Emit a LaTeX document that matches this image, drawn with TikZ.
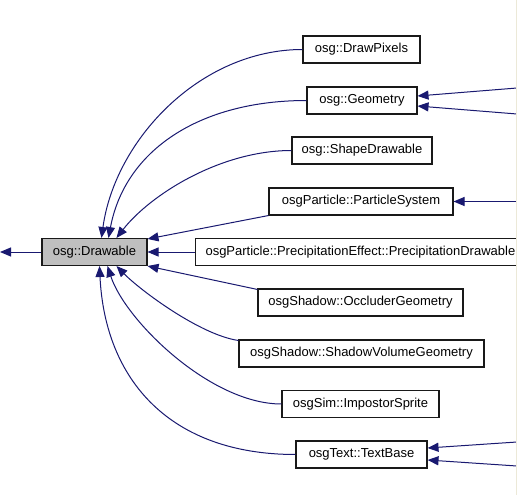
\documentclass[tikz,border=0pt]{standalone}
\usepackage{fontspec}
\setmainfont{Liberation Sans}
\usetikzlibrary{arrows.meta}

\definecolor{edgeblue}{RGB}{25,25,112}
\definecolor{basegray}{RGB}{191,191,191}
\definecolor{paneline}{RGB}{236,233,216}

\tikzset{
  cls/.style={draw=black!90, fill=white, line width=1.05pt, minimum height=27pt,
    inner sep=0pt, font=\fontsize{13}{15}\selectfont},
  edge/.style={draw=edgeblue, line width=1pt,
    -{Triangle[length=11pt,width=9pt]}, edgeblue},
}

\begin{document}
\begin{tikzpicture}[x=1pt, y=-1pt]
        \useasboundingbox (0,0) rectangle (517,495);
        \clip (0,0) rectangle (517,495);

        % base class
        \node[cls, fill=basegray, minimum width=105pt] (drawable) at (94.5,252) {osg::Drawable};

        % derived classes
        \node[cls, minimum width=117pt] (drawpixels) at (361.5,49.5) {osg::DrawPixels};
        \node[cls, minimum width=110pt] (geometry) at (362,100.5) {osg::Geometry};
        \node[cls, minimum width=140pt] (shapedrawable) at (362,150.5) {osg::ShapeDrawable};
        \node[cls, minimum width=184pt] (particlesystem) at (361,201.5) {osgParticle::ParticleSystem};
        \node[cls, anchor=west, inner xsep=10pt] (precipdrawable) at (195,252) {osgParticle::PrecipitationEffect::PrecipitationDrawable};
        \node[cls, minimum width=205pt] (occludergeom) at (360.5,302.5) {osgShadow::OccluderGeometry};
        \node[cls, minimum width=245pt] (shadowvolgeom) at (361.5,353.5) {osgShadow::ShadowVolumeGeometry};
        \node[cls, minimum width=157pt] (impostorsprite) at (360.5,404) {osgSim::ImpostorSprite};
        \node[cls, minimum width=131pt] (textbase) at (361.5,454.5) {osgText::TextBase};

        % free ends at the borders
        \coordinate (leftend) at (0,252);
        \coordinate (geomin1) at (517,88);
        \coordinate (geomin2) at (517,114);
        \coordinate (psin) at (517,201.5);
        \coordinate (textin1) at (517,442);
        \coordinate (textin2) at (517,466);

        % edges into osg::Drawable
        \draw[edge] (drawable.west) -- (leftend);
        \draw[edge] (drawpixels.west) .. controls (200,49.5) and (115,140) .. ([xshift=60pt]drawable.north west);
        \draw[edge] (geometry.west) .. controls (200,100.5) and (125,150) .. ([xshift=67pt]drawable.north west);
        \draw[edge] (shapedrawable.west) .. controls (220,150.5) and (150,195) .. ([xshift=75pt]drawable.north west);
        \draw[edge] (particlesystem.south west) -- ([yshift=-1pt]drawable.north east);
        \draw[edge] (precipdrawable.west) -- (drawable.east);
        \draw[edge] ([yshift=-1pt]occludergeom.north west) -- (drawable.south east);
        \draw[edge] ([yshift=-1pt]shadowvolgeom.north west) .. controls (200,335) and (140,290) .. ([xshift=75pt]drawable.south west);
        \draw[edge] (impostorsprite.west) .. controls (210,404) and (125,320) .. ([xshift=66pt]drawable.south west);
        \draw[edge] (textbase.west) .. controls (170,454.5) and (105,380) .. ([xshift=58pt]drawable.south west);

        % edges coming in from the right
        \draw[edge] (geomin1) -- ([yshift=4.5pt]geometry.east);
        \draw[edge] (geomin2) -- ([yshift=-5.5pt]geometry.east);
        \draw[edge] (psin) -- (particlesystem.east);
        \draw[edge] (textin1) -- ([yshift=6.5pt]textbase.east);
        \draw[edge] (textin2) -- ([yshift=-5.5pt]textbase.east);

        % window border
        \draw[paneline, line width=1pt] (516,0) -- (516,495);
\end{tikzpicture}
\end{document}
